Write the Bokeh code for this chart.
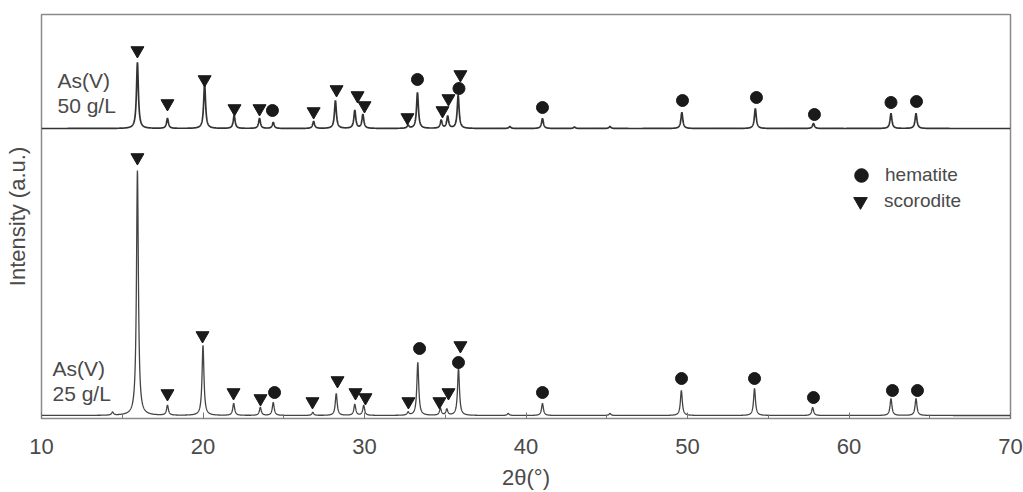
import numpy as np
from bokeh.plotting import figure
from bokeh.models import Range1d, Label, Legend, LegendItem, ColumnDataSource, SingleIntervalTicker
from bokeh.embed import file_html
from bokeh.resources import INLINE

# ---- data (2theta in degrees, intensity in arbitrary units) ----
baseline_50 = 290.0
baseline_25 = 3.0

pos_50 = [15.94, 17.80, 20.10, 21.93, 23.50, 24.35, 26.85, 28.20, 29.40, 29.90, 32.70, 33.28, 34.75, 35.15, 35.80, 39.00, 41.02, 43.00, 45.20, 49.65, 54.20, 57.80, 62.60, 64.15]
height_50 = [66, 10, 45, 13, 10, 6, 7, 28, 18, 14, 3, 36, 8, 12, 33, 2, 10, 1.5, 2, 16, 20, 5, 15, 15]

pos_25 = [14.40, 15.94, 17.80, 20.00, 21.90, 23.55, 24.35, 26.80, 28.25, 29.40, 29.95, 32.70, 33.30, 34.70, 35.10, 35.82, 38.90, 41.02, 45.20, 49.62, 54.15, 57.75, 62.60, 64.15]
height_25 = [3, 245, 10, 70, 12, 8, 13, 3, 22, 11, 10, 3, 53, 7, 6, 47, 2, 12, 2, 25, 27, 8, 17, 17]

hematite_x = [24.30, 33.28, 35.85, 41.02, 49.69, 54.27, 57.86, 62.60, 64.18,
              24.43, 33.41, 35.82, 41.02, 49.63, 54.15, 57.80, 62.69, 64.24]
hematite_y = [308, 339, 330, 311, 318, 321, 304, 316, 317,
              26, 70, 56, 26, 40, 40, 21, 28, 28]

scorodite_x = [15.94, 17.80, 20.10, 21.95, 23.50, 26.85, 28.27, 29.57, 30.00, 32.66, 34.83, 35.20, 35.94,
               15.94, 17.80, 19.97, 21.89, 23.56, 26.78, 28.33, 29.44, 30.06, 32.72, 34.64, 35.20, 35.94]
scorodite_y = [368, 315, 339, 310, 310, 307, 329, 323, 313, 301, 308, 320, 344,
               261, 25, 83, 26, 20, 17, 38, 26, 21, 17, 17, 26, 73]

sample_labels = [("As(V)", "50 g/L"), ("As(V)", "25 g/L")]

# ---- traces built from the peak tables ----
tt = np.arange(10.0, 70.0001, 0.01)

def trace(base, pos, hgt, w=0.07):
    y = np.full_like(tt, base)
    for p, h in zip(pos, hgt):
        y += h / (1.0 + ((tt - p) / w) ** 2)
    return y

y50 = trace(baseline_50, pos_50, height_50)
y25 = trace(baseline_25, pos_25, height_25)

FONT = "Liberation Sans"
TXT = "#4a4a4a"

p = figure(width=1023, height=492, x_range=Range1d(10, 70), y_range=Range1d(0, 404),
           output_backend="svg", toolbar_location=None,
           min_border_left=41, min_border_right=13, min_border_top=14, min_border_bottom=74)
p.background_fill_color = "white"
p.border_fill_color = "white"
p.outline_line_color = "#8a8a8a"
p.outline_line_width = 1.5
p.grid.visible = False

p.line(tt, y50, line_color="#333333", line_width=1.7)
p.line(tt, y25, line_color="#444444", line_width=1.3)

hem_src = ColumnDataSource(dict(x=hematite_x, y=hematite_y))
sco_src = ColumnDataSource(dict(x=scorodite_x, y=scorodite_y))
r_hem = p.scatter("x", "y", source=hem_src, marker="circle", size=12,
                  fill_color="#1a1a1a", line_color="#1a1a1a")
r_sco = p.scatter("x", "y", source=sco_src, marker="inverted_triangle", size=13,
                  fill_color="#1a1a1a", line_color="#1a1a1a")

def make_legend(label, rend, loc):
    return Legend(items=[LegendItem(label=label, renderers=[rend])],
                  location=loc, padding=0, margin=0, spacing=0,
                  glyph_width=34, glyph_height=34, label_height=34, label_standoff=7,
                  background_fill_alpha=0, border_line_color=None,
                  label_text_font=FONT, label_text_font_size="19px", label_text_color=TXT)

p.add_layout(make_legend("hematite", r_hem, (803, 226)), "center")
p.add_layout(make_legend("scorodite", r_sco, (802, 200)), "center")

# sample annotations
for (l1, l2), (lx, ly) in zip(sample_labels, [(10.99, 338), (10.68, 50)]):
    p.add_layout(Label(x=lx, y=ly, text=l1, text_font=FONT, text_font_size="21px",
                       text_color=TXT, text_baseline="middle"))
    p.add_layout(Label(x=lx, y=ly - 25, text=l2, text_font=FONT, text_font_size="21px",
                       text_color=TXT, text_baseline="middle"))

# x axis
xa = p.xaxis[0]
xa.ticker = SingleIntervalTicker(interval=10, num_minor_ticks=2)
xa.axis_line_color = None
xa.major_tick_in = 6
xa.major_tick_out = 0
xa.minor_tick_in = 4
xa.minor_tick_out = 0
xa.major_tick_line_color = "#777777"
xa.minor_tick_line_color = "#777777"
xa.major_label_standoff = 20
xa.major_label_text_font = FONT
xa.major_label_text_font_size = "22px"
xa.major_label_text_color = TXT
xa.axis_label = "2θ(°)"
xa.axis_label_text_font = FONT
xa.axis_label_text_font_size = "22px"
xa.axis_label_text_font_style = "normal"
xa.axis_label_text_color = TXT
xa.axis_label_standoff = 8

# y axis
ya = p.yaxis[0]
ya.ticker = []
ya.axis_line_color = None
ya.major_tick_line_color = None
ya.minor_tick_line_color = None
ya.major_label_text_font_size = "0px"
ya.axis_label = "Intensity (a.u.)"
ya.axis_label_text_font = FONT
ya.axis_label_text_font_size = "22px"
ya.axis_label_text_font_style = "normal"
ya.axis_label_text_color = TXT
ya.axis_label_standoff = 12

open("out.html", "w").write(file_html(p, INLINE))
